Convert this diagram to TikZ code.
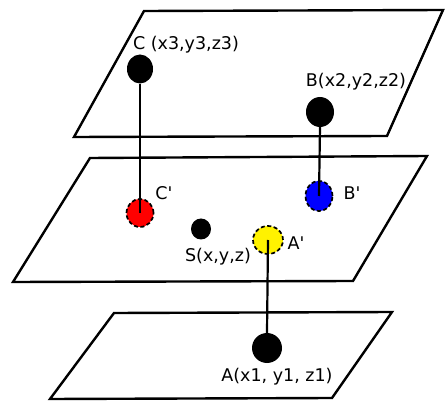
\documentclass[tikz,border=0pt]{standalone}
\usepackage{fontspec}
\setmainfont{DejaVu Sans}
\usetikzlibrary{shapes.geometric}
\begin{document}
\begin{tikzpicture}[x=1pt,y=-1pt,
  plane/.style={draw=black,fill=white,line width=2.4pt,line join=miter},
  point/.style={ellipse,fill=black,inner sep=0pt,minimum width=26pt,minimum height=29pt},
  proj/.style={ellipse,draw=black,dashed,dash pattern=on 4pt off 2.5pt,line width=1.7pt,inner sep=0pt,minimum width=27pt,minimum height=28pt},
  tag/.style={font=\fontsize{17.5}{20}\selectfont,inner sep=0pt},
  link/.style={line width=2.2pt}]
\useasboundingbox (0,0) rectangle (445,401);
% three planes
\draw[plane] (144,11) -- (443,10) -- (387,136) -- (74,137) -- cycle;
\draw[plane] (90,158) -- (427,156) -- (353,281) -- (13,282) -- cycle;
\draw[plane] (114,313) -- (392,312) -- (332,398) -- (50,399) -- cycle;
% points
\node[point] (C) at (140,69) {};
\node[point,minimum width=28pt,minimum height=30pt] (B) at (320,112) {};
\node[point,minimum width=30pt,minimum height=30pt] (A) at (267,348) {};
\node[point,minimum width=20pt,minimum height=21pt] (S) at (201,229) {};
% projected points
\node[proj,fill=red] (Cp) at (140,213) {};
\node[proj,fill=blue,minimum height=30pt] (Bp) at (319,196) {};
\node[proj,fill=yellow,minimum width=30pt] (Ap) at (268,240) {};
% labels
\node[tag] (Cl) at (186,45) {C (x3,y3,z3)};
\node[tag] (Bl) at (356,82) {B(x2,y2,z2)};
\node[tag] (Cpl) at (164,193) {C\textquotesingle};
\node[tag] (Bpl) at (352,193) {B\textquotesingle};
\node[tag] (Sl) at (218,257) {S(x,y,z)};
\node[tag] (Apl) at (296,243) {A\textquotesingle};
\node[tag] (Al) at (277,377) {A(x1, y1, z1)};
% connectors
\draw[link] (C.south) -- (Cp.center);
\draw[link] (B.south) -- (Bp.center);
\draw[link] (Ap.center) -- (A.north);
\end{tikzpicture}
\end{document}
